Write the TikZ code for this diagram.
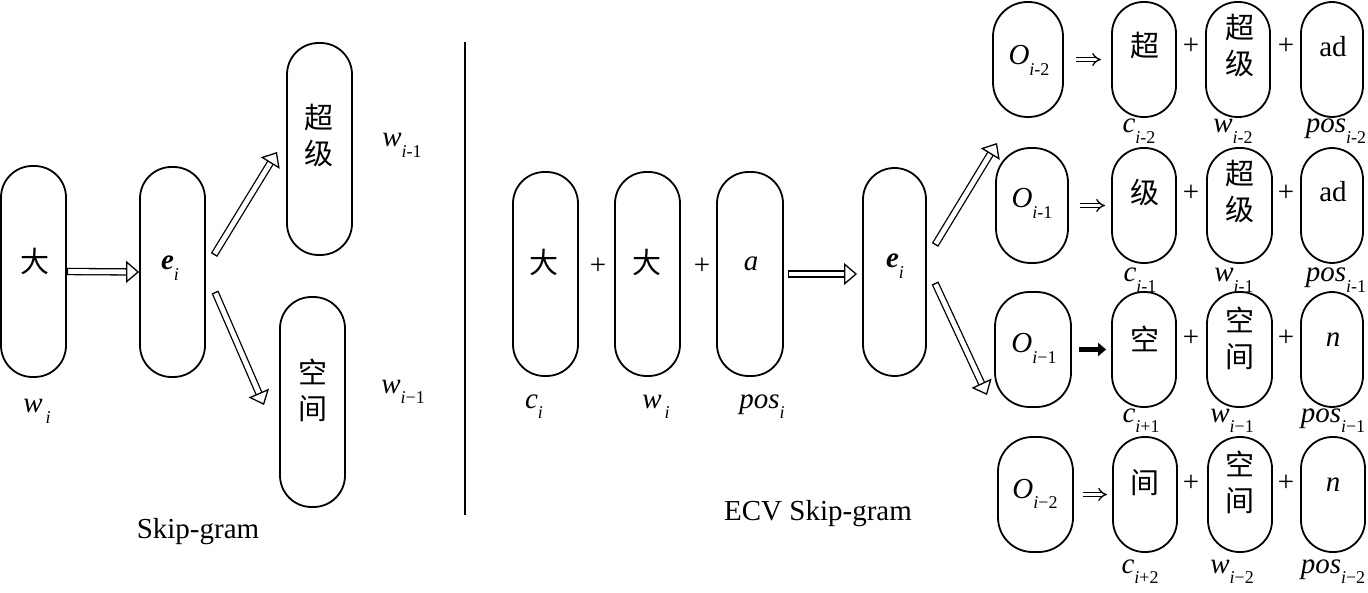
\documentclass[tikz,border=0pt]{standalone}
\usepackage{fontspec}
\setmainfont{Liberation Serif}
\newfontfamily\cjk{Noto Sans CJK SC}
\usetikzlibrary{arrows.meta}
\newcommand\sbs[1]{\raisebox{-0.36em}{\fontsize{18}{18}\selectfont #1}}
\newcommand\lb[2]{\textit{#1}\sbs{#2}}
\newcommand\ii{\textit{i}}
\begin{document}
\begin{tikzpicture}[x=1pt,y=-1pt,
  every node/.style={font=\fontsize{29}{36}\selectfont, inner sep=0pt},
  pill/.style={draw, line width=1.8pt, rounded corners=31.5pt, minimum width=65pt, minimum height=210pt},
  spill/.style={pill, minimum width=64pt, minimum height=115pt},
  opill/.style={pill, rounded corners=34.5pt, minimum height=115pt},
  cj/.style={font=\cjk\fontsize{29}{36}\selectfont, align=center},
  hollow/.style={line width=1.3pt, double=white, double distance=4.8pt, {Bar[width=7.4pt,line width=1.3pt]}-{Triangle[open, length=13pt, width=22pt, line width=1.3pt]}},
  imp/.style={line width=1.3pt, double=white, double distance=3.2pt, -{Implies[length=8pt, width=17pt]}},
  thk/.style={line width=5pt, -{Triangle[length=8pt, width=13pt]}}
]
\useasboundingbox (0,0) rectangle (1368,593);

% ---------- left: Skip-gram ----------
\node[pill, minimum height=211pt] (n0) at (33.5,271.5) {};
\node[pill] (ne) at (172.5,272) {};
\node[pill, minimum height=212pt] (nc) at (319.5,149) {};
\node[pill] (nk) at (312.5,402) {};
\node[cj] (t0) at (35,261) {大};
\node[anchor=base] (te) at (170,270) {\textbf{\textit{e}}\sbs{\ii}};
\node[cj] (tc) at (318.5,136) {超\\级};
\node[cj] (tk) at (312.5,390) {空\\间};
\node[anchor=base] (lw0) at (37,413) {\lb{w}{\,\ii}};
\node[anchor=base] (lw1) at (402,147) {\lb{w}{\ii-1}};
\node[anchor=base] (lw2) at (403,393) {\lb{w}{\ii−1}};
\node[anchor=base] (cap1) at (198,538) {Skip-gram};
\draw[hollow] (n0.east) -- (ne.west);
\coordinate (a1s) at (214,255); \coordinate (a1e) at (277,152);
\coordinate (a2s) at (215,292); \coordinate (a2e) at (264,405);
\draw[hollow] (a1s) -- (a1e);
\draw[hollow] (a2s) -- (a2e);

% divider
\coordinate (d1) at (465,42); \coordinate (d2) at (465,515);
\draw[line width=1.5pt] (d1) -- (d2);

% ---------- middle: ECV Skip-gram ----------
\node[pill, minimum height=204pt] (m1) at (545.5,274) {};
\node[pill, minimum height=204pt] (m2) at (647.5,274) {};
\node[pill, minimum width=66pt, minimum height=204pt] (m3) at (750,274) {};
\node[pill, minimum width=63pt, minimum height=208pt] (me) at (894.5,272) {};
\node[cj] (u1) at (544,262) {大};
\node[cj] (u2) at (647,262) {大};
\node (u3) at (751,264) {\textit{a}};
\node[anchor=base] (ue) at (895,268) {\textbf{\textit{e}}\sbs{\ii}};
\node (p1) at (598,266) {+};
\node (p2) at (702,266) {+};
\node[anchor=base] (lc) at (534,408) {\lb{c}{\ii}};
\node[anchor=base] (lw) at (656,408) {\lb{w}{\,\ii}};
\node[anchor=base] (lp) at (762,408) {\lb{pos}{\ii}};
\node[anchor=base] (cap2) at (818,520) {ECV Skip-gram};
\coordinate (b0s) at (788,274); \coordinate (b0e) at (857,274);
\draw[hollow] (b0s) -- (b0e);
\coordinate (a3s) at (935,245); \coordinate (a3e) at (997,143);
\coordinate (a4s) at (935,283); \coordinate (a4e) at (987,395);
\draw[hollow] (a3s) -- (a3e);
\draw[hollow] (a4s) -- (a4e);

% ---------- right: outputs ----------
% row 1
\node[opill, minimum width=70pt] (o1) at (1028,59.5) {};
\node[spill] (c1) at (1144,59.5) {};
\node[spill] (w1) at (1238,59.5) {};
\node[spill, minimum width=62pt] (s1) at (1332,59.5) {};
\node[anchor=base] (to1) at (1029,65) {\lb{O}{\ii-2}};
\node[cj] (tc1) at (1145,45) {超};
\node[cj] (tw1) at (1240,45.5) {超\\级};
\node (ts1) at (1333,47) {ad};
\node (q11) at (1191,46.5) {+};
\node (q12) at (1286,46.5) {+};
\node[anchor=base] (lc1) at (1139,133) {\lb{c}{\ii-2}};
\node[anchor=base] (lw1r) at (1233,133) {\lb{w}{\ii-2}};
\node[anchor=base] (ls1) at (1336,133) {\lb{pos}{\ii-2}};
\draw[imp, shorten <=12pt, shorten >=10pt] (o1) -- (c1);
% row 2
\node[opill, minimum width=72pt] (o2) at (1032,205.5) {};
\node[spill] (c2) at (1144,205.5) {};
\node[spill, minimum width=65pt] (w2) at (1239.5,205.5) {};
\node[spill, minimum width=62pt] (s2) at (1332,205.5) {};
\node[anchor=base] (to2) at (1032,208) {\lb{O}{\ii-1}};
\node[cj] (tc2) at (1145,192.5) {级};
\node[cj] (tw2) at (1240,191.5) {超\\级};
\node (ts2) at (1333,192) {ad};
\node (q21) at (1191,193) {+};
\node (q22) at (1286,193) {+};
\node[anchor=base] (lc2) at (1140,282) {\lb{c}{\ii-1}};
\node[anchor=base] (lw2r) at (1234,282) {\lb{w}{\ii-1}};
\node[anchor=base] (ls2) at (1336,282) {\lb{pos}{\ii-1}};
\draw[imp, shorten <=11pt, shorten >=6pt] (o2) -- (c2);
% row 3
\node[opill, minimum width=76pt] (o3) at (1033,349.5) {};
\node[spill] (c3) at (1144,349.5) {};
\node[spill, minimum width=65pt] (w3) at (1239.5,349.5) {};
\node[spill, minimum width=62pt] (s3) at (1332,349.5) {};
\node[anchor=base] (to3) at (1034,353) {\lb{O}{\ii−1}};
\node[cj] (tc3) at (1145,338.5) {空};
\node[cj] (tw3) at (1240,338.5) {空\\间};
\node (ts3) at (1333,340) {\textit{n}};
\node (q31) at (1191,338) {+};
\node (q32) at (1286,338) {+};
\node[anchor=base] (lc3) at (1141,422) {\lb{c}{\ii+1}};
\node[anchor=base] (lw3r) at (1232,422) {\lb{w}{\ii−1}};
\node[anchor=base] (ls3) at (1333,422) {\lb{pos}{\ii−1}};
\draw[thk, shorten <=7pt, shorten >=5pt] (o3) -- (c3);
% row 4
\node[opill, minimum width=75pt] (o4) at (1035.5,494.5) {};
\node[spill] (c4) at (1145,494.5) {};
\node[spill] (w4) at (1240,494.5) {};
\node[spill, minimum width=64pt] (s4) at (1333,494.5) {};
\node[anchor=base] (to4) at (1035,498) {\lb{O}{\ii−2}};
\node[cj] (tc4) at (1145,482.5) {间};
\node[cj] (tw4) at (1240,482) {空\\间};
\node (ts4) at (1333,485) {\textit{n}};
\node (q41) at (1191,483) {+};
\node (q42) at (1286,483) {+};
\node[anchor=base] (lc4) at (1140,573) {\lb{c}{\ii+2}};
\node[anchor=base] (lw4r) at (1232,573) {\lb{w}{\ii−2}};
\node[anchor=base] (ls4) at (1333,573) {\lb{pos}{\ii−2}};
\draw[imp, shorten <=9pt, shorten >=5pt] (o4) -- (c4);
\end{tikzpicture}
\end{document}
